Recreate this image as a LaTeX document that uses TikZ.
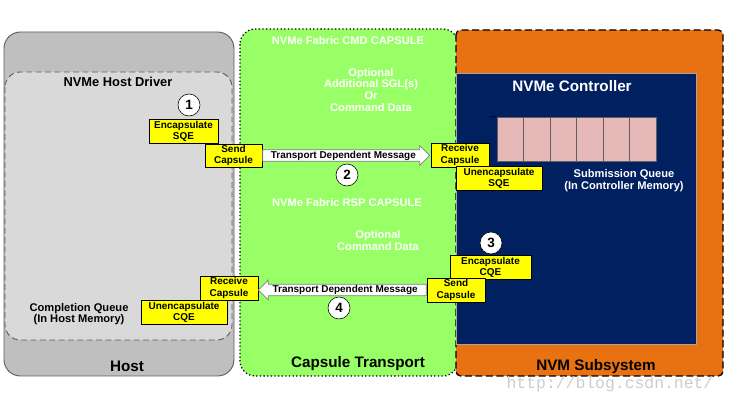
\documentclass[tikz,border=0pt]{standalone}
\usepackage{fontspec}
\setmainfont{Liberation Sans}
\newfontfamily\marcafont{Liberation Mono}
\usepackage{tikz}
\usetikzlibrary{positioning,arrows.meta,shapes.arrows,calc}
\definecolor{hostgris}{RGB}{191,191,191}
\definecolor{drivergris}{RGB}{217,217,217}
\definecolor{bordegris}{RGB}{95,95,95}
\definecolor{capverde}{RGB}{153,255,102}
\definecolor{subnaranja}{RGB}{232,114,18}
\definecolor{ctrlazul}{RGB}{0,32,96}
\definecolor{colarosa}{RGB}{230,185,184}
\definecolor{etapaamarillo}{RGB}{255,255,0}
\definecolor{marcagris}{RGB}{205,205,205}
\tikzset{etapa/.style={draw=black, line width=0.6pt, fill=etapaamarillo, align=center, inner sep=0pt, font=\bfseries\fontsize{8.5}{9.6}\selectfont}}
\tikzset{paso/.style={draw=black, circle, fill=white, minimum size=0.66cm, inner sep=0pt, line width=0.5pt, font=\bfseries\fontsize{11.5}{11.5}\selectfont}}
\tikzset{mensaje/.style={single arrow, draw=gray, fill=white, line width=0.6pt, inner xsep=2pt, inner ysep=0.6pt, single arrow head extend=0.13cm, font=\bfseries\fontsize{8.5}{9}\selectfont}}
\tikzset{titulo/.style={font=\bfseries\fontsize{13}{13}\selectfont}}
\tikzset{leyenda/.style={align=center, font=\bfseries\fontsize{9.5}{10.3}\selectfont}}
\tikzset{celda/.style={draw=bordegris, fill=colarosa, line width=0.6pt, minimum width=0.795cm, minimum height=1.32cm, inner sep=0pt}}

\begin{document}
\begin{tikzpicture}[x=0.03cm, y=-0.03cm]
            \useasboundingbox (0,0) rectangle (729,405);

            \draw[draw=bordegris, fill=hostgris, line width=0.8pt, rounded corners=14pt] (4,32) rectangle (234,376);
            \draw[draw=bordegris, fill=drivergris, line width=0.8pt, dash pattern=on 5pt off 3pt, rounded corners=13pt] (5,72) rectangle (232,340);
            \draw[draw=black, fill=capverde, line width=1.1pt, dotted, rounded corners=13pt] (240,29) rectangle (458,376);
            \draw[draw=black, fill=subnaranja, line width=1.1pt, dash pattern=on 6pt off 3pt, rounded corners=4pt] (456,30) rectangle (723,376);
            \draw[draw=gray!70, fill=ctrlazul, line width=0.5pt] (456,73) rectangle (696,344);

            \foreach \i in {0,...,5} {
                \node[celda] (c\i) at (510.25+26.5*\i,139) {};
            }
            \draw[draw=black, line width=0.6pt] (490,117) -- (c0.north west);

            \node[titulo] (thost) at (127,366) {Host};
            \node[font=\bfseries\fontsize{11}{11}\selectfont] (tdriver) at (118,82) {NVMe Host Driver};
            \node[titulo] (ttransporte) at (358,364) {Capsule Transport};
            \node[titulo] (tsubsistema) at (596,367) {NVM Subsystem};
            \node[titulo, text=white] (tcontrolador) at (572,86) {NVMe Controller};
            \node[leyenda, text=white] (cmd) at (348,41) {NVMe Fabric CMD CAPSULE};
            \node[leyenda, text=white, font=\bfseries\fontsize{9.5}{10.2}\selectfont] (sgl) at (371,90) {Optional\\Additional SGL(s)\\Or\\Command Data};
            \node[leyenda, text=white] (rsp) at (347,203) {NVMe Fabric RSP CAPSULE};
            \node[leyenda, text=white, font=\bfseries\fontsize{9.5}{11}\selectfont] (datos) at (378,240.5) {Optional\\Command Data};
            \node[leyenda, text=white] (sq) at (624,181) {Submission Queue\\(In Controller Memory)};
            \node[leyenda, font=\bfseries\fontsize{9.5}{9.6}\selectfont] (cq) at (79,314.5) {Completion Queue\\(In Host Memory)};

            \node[etapa, minimum width=2.07cm, minimum height=0.72cm] (encsqe) at (183.5,131) {Encapsulate\\SQE};
            \node[etapa, minimum width=1.71cm, minimum height=0.69cm] (envia1) at (233.5,155.5) {Send\\Capsule};
            \node[etapa, minimum width=1.74cm, minimum height=0.72cm] (recibe1) at (460,155) {Receive\\Capsule};
            \node[etapa, minimum width=2.58cm, minimum height=0.72cm] (desensqe) at (499,178) {Unencapsulate\\SQE};
            \node[etapa, minimum width=2.43cm, minimum height=0.72cm] (enccqe) at (490.5,267) {Encapsulate\\CQE};
            \node[etapa, minimum width=1.74cm, minimum height=0.72cm] (envia2) at (456,290) {Send\\Capsule};
            \node[etapa, minimum width=1.74cm, minimum height=0.72cm] (recibe2) at (229,288) {Receive\\Capsule};
            \node[etapa, minimum width=2.58cm, minimum height=0.72cm] (desencqe) at (184,312) {Unencapsulate\\CQE};

            \node[mensaje, anchor=tail, minimum height=5.01cm] (msg1) at (envia1.east) {Transport Dependent Message};
            \node[mensaje, anchor=tail, shape border rotate=180, minimum height=5.04cm] (msg2) at (envia2.west) {Transport Dependent Message};

            \node[paso] (1) at (189,105) {1};
            \node[paso] (2) at (347,175) {2};
            \node[paso] (3) at (491,243) {3};
            \node[paso] (4) at (339,308) {4};

            \node[text=marcagris, font=\marcafont\fontsize{14}{14}\selectfont] (marca) at (610,384) {http://blog.csdn.net/};
        \end{tikzpicture}
\end{document}
